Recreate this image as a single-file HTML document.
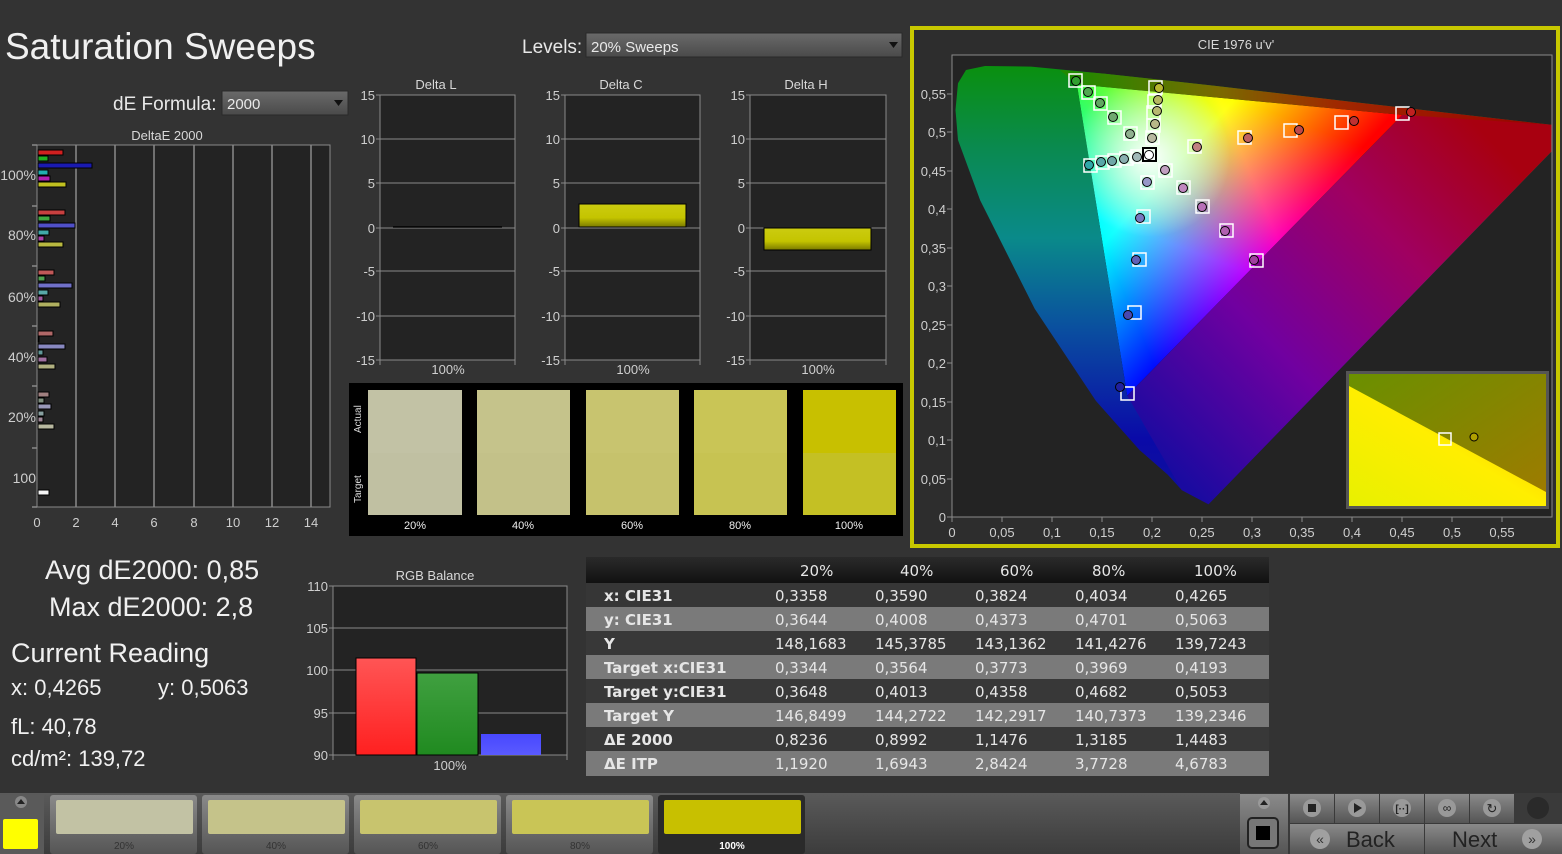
<!DOCTYPE html>
<html><head><meta charset="utf-8"><style>
html,body{margin:0;padding:0;background:#333333;width:1562px;height:854px;overflow:hidden}
svg{display:block}
text{font-family:"Liberation Sans",sans-serif;fill:#e8e8e8}
.t{fill:#d8d8d8;font-size:13px}
.tk{fill:#cfcfcf;font-size:13px}
.tb text{font-family:"DejaVu Sans",sans-serif;font-size:15px;fill:#e6e6e6}
.tb .l{font-weight:bold}
</style></head><body>
<svg width="1562" height="854" viewBox="0 0 1562 854" xmlns="http://www.w3.org/2000/svg">
<defs>
<linearGradient id="dd" x1="0" y1="0" x2="0" y2="1"><stop offset="0" stop-color="#6a6a6a"/><stop offset="1" stop-color="#4a4a4a"/></linearGradient>
<linearGradient id="yb" x1="0" y1="0" x2="0" y2="1"><stop offset="0" stop-color="#cccc10"/><stop offset="0.6" stop-color="#c4c400"/><stop offset="1" stop-color="#7a7a00"/></linearGradient>
<linearGradient id="rb" x1="0" y1="0" x2="0" y2="1"><stop offset="0" stop-color="#ff5555"/><stop offset="1" stop-color="#ff2020"/></linearGradient>
<linearGradient id="gb" x1="0" y1="0" x2="0" y2="1"><stop offset="0" stop-color="#40a040"/><stop offset="1" stop-color="#208a20"/></linearGradient>
<linearGradient id="bb" x1="0" y1="0" x2="0" y2="1"><stop offset="0" stop-color="#4848ff"/><stop offset="1" stop-color="#5a5aff"/></linearGradient>
<linearGradient id="bot" x1="0" y1="0" x2="0" y2="1"><stop offset="0" stop-color="#5a5a5a"/><stop offset="1" stop-color="#3c3c3c"/></linearGradient>
<linearGradient id="btn" x1="0" y1="0" x2="0" y2="1"><stop offset="0" stop-color="#8a8a8a"/><stop offset="1" stop-color="#555"/></linearGradient>
<linearGradient id="hdr" x1="0" y1="0" x2="0" y2="1"><stop offset="0" stop-color="#2a2a2a"/><stop offset="1" stop-color="#111"/></linearGradient>
<linearGradient id="loc" gradientUnits="userSpaceOnUse" x1="0" y1="60" x2="0" y2="505"><stop offset="0" stop-color="#0a900a"/><stop offset="0.2" stop-color="#0a8a50"/><stop offset="0.4" stop-color="#0a8a8a"/><stop offset="0.6" stop-color="#0a509f"/><stop offset="0.85" stop-color="#0a0aa8"/><stop offset="1" stop-color="#10109a"/></linearGradient>
<linearGradient id="top" gradientUnits="userSpaceOnUse" x1="1076" y1="0" x2="1552" y2="0"><stop offset="0" stop-color="#208a00"/><stop offset="0.3" stop-color="#7a6a00"/><stop offset="0.55" stop-color="#a02800"/><stop offset="1" stop-color="#990000"/></linearGradient>
<linearGradient id="pur" gradientUnits="userSpaceOnUse" x1="1170" y1="470" x2="1500" y2="150"><stop offset="0" stop-color="#1a0aa0"/><stop offset="0.35" stop-color="#7000a0"/><stop offset="0.7" stop-color="#a00060"/><stop offset="1" stop-color="#a80010"/></linearGradient>
<linearGradient id="gr" gradientUnits="userSpaceOnUse" x1="1402" y1="115" x2="1102" y2="240"><stop offset="0" stop-color="#ff0000"/><stop offset="0.5" stop-color="#ff0000"/><stop offset="1" stop-color="#ff0000" stop-opacity="0"/></linearGradient>
<linearGradient id="gg" gradientUnits="userSpaceOnUse" x1="1077" y1="84" x2="1265" y2="255"><stop offset="0" stop-color="#00ff00"/><stop offset="0.5" stop-color="#00ff00"/><stop offset="1" stop-color="#00ff00" stop-opacity="0"/></linearGradient>
<linearGradient id="gbl" gradientUnits="userSpaceOnUse" x1="1127" y1="396" x2="1240" y2="100"><stop offset="0" stop-color="#0000ff"/><stop offset="0.5" stop-color="#0000ff"/><stop offset="1" stop-color="#0000ff" stop-opacity="0"/></linearGradient>
<radialGradient id="wp" gradientUnits="userSpaceOnUse" cx="1150" cy="157" r="80"><stop offset="0" stop-color="#fff" stop-opacity="1"/><stop offset="1" stop-color="#fff" stop-opacity="0"/></radialGradient>
<linearGradient id="ins" x1="0" y1="1" x2="1" y2="0"><stop offset="0" stop-color="#e8f000"/><stop offset="0.5" stop-color="#ffee00"/><stop offset="1" stop-color="#ffb000"/></linearGradient>
<linearGradient id="ins2" x1="0" y1="0" x2="1" y2="1"><stop offset="0" stop-color="#6a9000"/><stop offset="1" stop-color="#a07a00"/></linearGradient>
</defs>

<text x="5" y="59" style="font-size:37px;fill:#f0f0f0">Saturation Sweeps</text>
<text x="113" y="110" style="font-size:19px;fill:#e8e8e8">dE Formula:</text>
<rect x="222" y="91" width="126" height="24" fill="url(#dd)" stroke="#2a2a2a"/>
<text x="227" y="109" style="font-size:15px">2000</text>
<path d="M334 100 h9 l-4.5 6z" fill="#111"/>
<text x="522" y="53" style="font-size:19px">Levels:</text>
<rect x="586" y="33" width="316" height="24" fill="url(#dd)" stroke="#2a2a2a"/>
<text x="591" y="52" style="font-size:15px">20% Sweeps</text>
<path d="M889 42 h9 l-4.5 6z" fill="#111"/>

<text x="167" y="140" class="t" text-anchor="middle">DeltaE 2000</text>
<rect x="37" y="145" width="293" height="362" fill="#232323" stroke="#8a8a8a"/>
<g stroke="#8a8a8a" stroke-width="1.5">
<line x1="76" y1="145" x2="76" y2="507"/><line x1="115" y1="145" x2="115" y2="507"/><line x1="154" y1="145" x2="154" y2="507"/><line x1="194" y1="145" x2="194" y2="507"/><line x1="233" y1="145" x2="233" y2="507"/><line x1="272" y1="145" x2="272" y2="507"/><line x1="311" y1="145" x2="311" y2="507"/>
<line x1="32" y1="145" x2="37" y2="145"/><line x1="32" y1="206" x2="37" y2="206"/><line x1="32" y1="266" x2="37" y2="266"/><line x1="32" y1="326" x2="37" y2="326"/><line x1="32" y1="386" x2="37" y2="386"/><line x1="32" y1="448" x2="37" y2="448"/><line x1="32" y1="507" x2="37" y2="507"/>
</g>
<text x="36" y="180" text-anchor="end" class="tk" style="font-size:14px">100%</text>
<text x="36" y="240" text-anchor="end" class="tk" style="font-size:14px">80%</text>
<text x="36" y="302" text-anchor="end" class="tk" style="font-size:14px">60%</text>
<text x="36" y="362" text-anchor="end" class="tk" style="font-size:14px">40%</text>
<text x="36" y="422" text-anchor="end" class="tk" style="font-size:14px">20%</text>
<text x="36" y="483" text-anchor="end" class="tk" style="font-size:14px">100</text>
<text x="37" y="527" text-anchor="middle" class="tk">0</text><text x="76" y="527" text-anchor="middle" class="tk">2</text><text x="115" y="527" text-anchor="middle" class="tk">4</text><text x="154" y="527" text-anchor="middle" class="tk">6</text><text x="194" y="527" text-anchor="middle" class="tk">8</text><text x="233" y="527" text-anchor="middle" class="tk">10</text><text x="272" y="527" text-anchor="middle" class="tk">12</text><text x="311" y="527" text-anchor="middle" class="tk">14</text>
<g stroke="#000" stroke-width="1">
<rect x="38" y="150" width="25" height="5" fill="#d02020"/><rect x="38" y="156" width="10" height="5" fill="#20b020"/><rect x="38" y="163" width="54" height="5" fill="#1a1ab0"/><rect x="38" y="170" width="10" height="5" fill="#20b0b0"/><rect x="38" y="176" width="12" height="5" fill="#b020b0"/><rect x="38" y="182" width="28" height="5" fill="#c0c020"/>
<rect x="38" y="210" width="27" height="5" fill="#c84040"/><rect x="38" y="216" width="12" height="5" fill="#40a840"/><rect x="38" y="223" width="37" height="5" fill="#5050c8"/><rect x="38" y="230" width="11" height="5" fill="#40a8a8"/><rect x="38" y="236" width="6" height="5" fill="#a840a8"/><rect x="38" y="242" width="25" height="5" fill="#b8b840"/>
<rect x="38" y="270" width="16" height="5" fill="#c05858"/><rect x="38" y="276" width="7" height="5" fill="#50a050"/><rect x="38" y="283" width="34" height="5" fill="#7070c8"/><rect x="38" y="290" width="10" height="5" fill="#58a8a8"/><rect x="38" y="296" width="5" height="5" fill="#a058a0"/><rect x="38" y="302" width="22" height="5" fill="#b0b060"/>
<rect x="38" y="331" width="15" height="5" fill="#b06868"/><rect x="38" y="337" width="1" height="5" fill="#609060"/><rect x="38" y="344" width="27" height="5" fill="#8888c0"/><rect x="38" y="350" width="5" height="5" fill="#609898"/><rect x="38" y="357" width="9" height="5" fill="#a070a0"/><rect x="38" y="364" width="17" height="5" fill="#b0b080"/>
<rect x="38" y="392" width="11" height="5" fill="#a08080"/><rect x="38" y="398" width="6" height="5" fill="#809080"/><rect x="38" y="404" width="13" height="5" fill="#9898b8"/><rect x="38" y="411" width="6" height="5" fill="#88a0a0"/><rect x="38" y="417" width="5" height="5" fill="#a08898"/><rect x="38" y="424" width="16" height="5" fill="#b8b8a0"/>
<rect x="38" y="490" width="11" height="5" fill="#f4f4f4"/>
</g>

<text x="436" y="89" class="t" text-anchor="middle">Delta L</text>
<text x="621" y="89" class="t" text-anchor="middle">Delta C</text>
<text x="806" y="89" class="t" text-anchor="middle">Delta H</text>
<rect x="380" y="95" width="135" height="265" fill="#232323" stroke="#8a8a8a"/>
<rect x="565" y="95" width="135" height="265" fill="#232323" stroke="#8a8a8a"/>
<rect x="750" y="95" width="136" height="265" fill="#232323" stroke="#8a8a8a"/>
<g stroke="#8a8a8a">
<path d="M376 95h4M376 139h139M376 183h139M376 228h139M376 271h139M376 316h139M376 360h4M380 360v5M515 360v5"/>
<path d="M561 95h4M561 139h139M561 183h139M561 228h139M561 271h139M561 316h139M561 360h4M565 360v5M700 360v5"/>
<path d="M746 95h4M746 139h140M746 183h140M746 228h140M746 271h140M746 316h140M746 360h4M750 360v5M886 360v5"/>
</g>
<text x="375" y="100" text-anchor="end" class="tk">15</text><text x="375" y="144" text-anchor="end" class="tk">10</text><text x="375" y="188" text-anchor="end" class="tk">5</text><text x="375" y="233" text-anchor="end" class="tk">0</text><text x="375" y="276" text-anchor="end" class="tk">-5</text><text x="375" y="321" text-anchor="end" class="tk">-10</text><text x="375" y="365" text-anchor="end" class="tk">-15</text>
<text x="560" y="100" text-anchor="end" class="tk">15</text><text x="560" y="144" text-anchor="end" class="tk">10</text><text x="560" y="188" text-anchor="end" class="tk">5</text><text x="560" y="233" text-anchor="end" class="tk">0</text><text x="560" y="276" text-anchor="end" class="tk">-5</text><text x="560" y="321" text-anchor="end" class="tk">-10</text><text x="560" y="365" text-anchor="end" class="tk">-15</text>
<text x="745" y="100" text-anchor="end" class="tk">15</text><text x="745" y="144" text-anchor="end" class="tk">10</text><text x="745" y="188" text-anchor="end" class="tk">5</text><text x="745" y="233" text-anchor="end" class="tk">0</text><text x="745" y="276" text-anchor="end" class="tk">-5</text><text x="745" y="321" text-anchor="end" class="tk">-10</text><text x="745" y="365" text-anchor="end" class="tk">-15</text>
<text x="448" y="374" text-anchor="middle" class="tk">100%</text><text x="633" y="374" text-anchor="middle" class="tk">100%</text><text x="818" y="374" text-anchor="middle" class="tk">100%</text>
<line x1="393" y1="227" x2="502" y2="227" stroke="#000" stroke-width="1.5"/>
<rect x="579" y="204" width="107" height="23" fill="url(#yb)" stroke="#000"/>
<rect x="764" y="228" width="107" height="22" fill="url(#yb)" stroke="#000"/>

<rect x="349" y="383" width="554" height="153" fill="#000"/>
<text transform="translate(361,433) rotate(-90)" style="font-size:10px;fill:#ddd">Actual</text>
<text transform="translate(361,503) rotate(-90)" style="font-size:10px;fill:#ddd">Target</text>
<rect x="368" y="390" width="94" height="63" fill="#c2c2a5"/><rect x="368" y="453" width="94" height="62" fill="#c0c0a2"/>
<rect x="477" y="390" width="93" height="63" fill="#c5c38b"/><rect x="477" y="453" width="93" height="62" fill="#c3c189"/>
<rect x="586" y="390" width="93" height="63" fill="#c8c46f"/><rect x="586" y="453" width="93" height="62" fill="#c6c26c"/>
<rect x="694" y="390" width="93" height="63" fill="#c9c556"/><rect x="694" y="453" width="93" height="62" fill="#c7c352"/>
<rect x="803" y="390" width="93" height="63" fill="#c8c000"/><rect x="803" y="453" width="93" height="62" fill="#c4c024"/>
<text x="415" y="529" text-anchor="middle" style="font-size:11px;fill:#eee">20%</text><text x="523" y="529" text-anchor="middle" style="font-size:11px;fill:#eee">40%</text><text x="632" y="529" text-anchor="middle" style="font-size:11px;fill:#eee">60%</text><text x="740" y="529" text-anchor="middle" style="font-size:11px;fill:#eee">80%</text><text x="849" y="529" text-anchor="middle" style="font-size:11px;fill:#eee">100%</text>

<text x="45" y="579" style="font-size:27px;fill:#f0f0f0">Avg dE2000: 0,85</text>
<text x="49" y="616" style="font-size:27px;fill:#f0f0f0">Max dE2000: 2,8</text>
<text x="11" y="662" style="font-size:27px;fill:#f0f0f0">Current Reading</text>
<text x="11" y="695" style="font-size:22px;fill:#f0f0f0">x: 0,4265</text>
<text x="158" y="695" style="font-size:22px;fill:#f0f0f0">y: 0,5063</text>
<text x="11" y="734" style="font-size:22px;fill:#f0f0f0">fL: 40,78</text>
<text x="11" y="766" style="font-size:22px;fill:#f0f0f0">cd/m²: 139,72</text>

<text x="435" y="580" class="t" text-anchor="middle">RGB Balance</text>
<rect x="333" y="586" width="234" height="169" fill="#232323" stroke="#8a8a8a"/>
<g stroke="#8a8a8a"><path d="M329 586h4M329 628h238M329 670h238M329 713h238M329 755h4M333 755v5M567 755v5"/></g>
<text x="328" y="591" text-anchor="end" class="tk">110</text><text x="328" y="633" text-anchor="end" class="tk">105</text><text x="328" y="675" text-anchor="end" class="tk">100</text><text x="328" y="718" text-anchor="end" class="tk">95</text><text x="328" y="760" text-anchor="end" class="tk">90</text><text x="450" y="770" text-anchor="middle" class="tk">100%</text>
<rect x="356" y="658" width="60" height="97" fill="url(#rb)" stroke="#000"/>
<rect x="417" y="673" width="61" height="82" fill="url(#gb)" stroke="#000"/>
<rect x="481" y="734" width="60" height="21" fill="url(#bb)"/>

<g class="tb">
<rect x="586" y="557" width="683" height="26" fill="url(#hdr)"/>
<rect x="586" y="583" width="683" height="24" fill="#363636"/>
<rect x="586" y="607" width="683" height="24" fill="#7a7a7a"/>
<rect x="586" y="631" width="683" height="24" fill="#383838"/>
<rect x="586" y="655" width="683" height="24" fill="#7a7a7a"/>
<rect x="586" y="679" width="683" height="24" fill="#383838"/>
<rect x="586" y="703" width="683" height="24" fill="#7a7a7a"/>
<rect x="586" y="727" width="683" height="24" fill="#383838"/>
<rect x="586" y="751" width="683" height="25" fill="#7a7a7a"/>
<text x="800" y="576">20%</text><text x="900" y="576">40%</text><text x="1000" y="576">60%</text><text x="1092" y="576">80%</text><text x="1194" y="576">100%</text>
<text x="604" y="601" class="l">x: CIE31</text><text x="775" y="601">0,3358</text><text x="875" y="601">0,3590</text><text x="975" y="601">0,3824</text><text x="1075" y="601">0,4034</text><text x="1175" y="601">0,4265</text>
<text x="604" y="625" class="l">y: CIE31</text><text x="775" y="625">0,3644</text><text x="875" y="625">0,4008</text><text x="975" y="625">0,4373</text><text x="1075" y="625">0,4701</text><text x="1175" y="625">0,5063</text>
<text x="604" y="649" class="l">Y</text><text x="775" y="649">148,1683</text><text x="875" y="649">145,3785</text><text x="975" y="649">143,1362</text><text x="1075" y="649">141,4276</text><text x="1175" y="649">139,7243</text>
<text x="604" y="673" class="l">Target x:CIE31</text><text x="775" y="673">0,3344</text><text x="875" y="673">0,3564</text><text x="975" y="673">0,3773</text><text x="1075" y="673">0,3969</text><text x="1175" y="673">0,4193</text>
<text x="604" y="697" class="l">Target y:CIE31</text><text x="775" y="697">0,3648</text><text x="875" y="697">0,4013</text><text x="975" y="697">0,4358</text><text x="1075" y="697">0,4682</text><text x="1175" y="697">0,5053</text>
<text x="604" y="721" class="l">Target Y</text><text x="775" y="721">146,8499</text><text x="875" y="721">144,2722</text><text x="975" y="721">142,2917</text><text x="1075" y="721">140,7373</text><text x="1175" y="721">139,2346</text>
<text x="604" y="745" class="l">ΔE 2000</text><text x="775" y="745">0,8236</text><text x="875" y="745">0,8992</text><text x="975" y="745">1,1476</text><text x="1075" y="745">1,3185</text><text x="1175" y="745">1,4483</text>
<text x="604" y="769" class="l">ΔE ITP</text><text x="775" y="769">1,1920</text><text x="875" y="769">1,6943</text><text x="975" y="769">2,8424</text><text x="1075" y="769">3,7728</text><text x="1175" y="769">4,6783</text>
</g>

<rect x="912" y="28" width="646" height="518" fill="#2d2d2d" stroke="#c8c800" stroke-width="4"/>
<text x="1236" y="49" class="t" text-anchor="middle">CIE 1976 u'v'</text>
<rect x="952" y="55" width="600" height="462" fill="#232323" stroke="#8a8a8a"/>
<path d="M1208.5 504.3 L1181.8 490.1 L1167.8 474.7 L1139.5 450 L1095.9 400.9 L1034.7 308.8 L980.2 200.4 L958 140 L955.5 110 L958 83.3 L966 70 L985 66 L1031.1 66.6 L1104.8 73.7 L1214.2 85.7 L1355.1 102.2 L1471.5 115.6 L1551.4 124.8 L1551.4 151.6 Z" fill="url(#loc)"/>
<path d="M1076.9 84.4 L1060 70 L1104.8 73.7 L1214.2 85.7 L1355.1 102.2 L1471.5 115.6 L1551.4 124.8 L1551.4 135 L1402.3 114.9 Z" fill="url(#top)"/>
<path d="M1127.2 395.6 L1402.3 114.9 L1551.4 124.8 L1551.4 151.6 L1208.5 504.3 L1181.8 490.1 Z" fill="url(#pur)"/>
<g style="isolation:isolate">
<path d="M1402.3 114.9 L1076.9 84.4 L1127.2 395.6 Z" fill="#000"/>
<path d="M1402.3 114.9 L1076.9 84.4 L1127.2 395.6 Z" fill="url(#gr)" style="mix-blend-mode:screen"/>
<path d="M1402.3 114.9 L1076.9 84.4 L1127.2 395.6 Z" fill="url(#gg)" style="mix-blend-mode:screen"/>
<path d="M1402.3 114.9 L1076.9 84.4 L1127.2 395.6 Z" fill="url(#gbl)" style="mix-blend-mode:screen"/>
<path d="M1402.3 114.9 L1076.9 84.4 L1127.2 395.6 Z" fill="url(#wp)" style="mix-blend-mode:screen"/>
</g>
<g stroke="#8a8a8a">
<path d="M947 517h5M947 479h5M947 440h5M947 402h5M947 363h5M947 325h5M947 286h5M947 248h5M947 209h5M947 171h5M947 132h5M947 94h5"/>
<path d="M952 517v5M1002 517v5M1052 517v5M1102 517v5M1152 517v5M1202 517v5M1252 517v5M1302 517v5M1352 517v5M1402 517v5M1452 517v5M1502 517v5"/>
</g>
<text x="946" y="522" text-anchor="end" class="tk">0</text><text x="946" y="484" text-anchor="end" class="tk">0,05</text><text x="946" y="445" text-anchor="end" class="tk">0,1</text><text x="946" y="407" text-anchor="end" class="tk">0,15</text><text x="946" y="368" text-anchor="end" class="tk">0,2</text><text x="946" y="330" text-anchor="end" class="tk">0,25</text><text x="946" y="291" text-anchor="end" class="tk">0,3</text><text x="946" y="253" text-anchor="end" class="tk">0,35</text><text x="946" y="214" text-anchor="end" class="tk">0,4</text><text x="946" y="176" text-anchor="end" class="tk">0,45</text><text x="946" y="137" text-anchor="end" class="tk">0,5</text><text x="946" y="99" text-anchor="end" class="tk">0,55</text>
<text x="952" y="537" text-anchor="middle" class="tk">0</text><text x="1002" y="537" text-anchor="middle" class="tk">0,05</text><text x="1052" y="537" text-anchor="middle" class="tk">0,1</text><text x="1102" y="537" text-anchor="middle" class="tk">0,15</text><text x="1152" y="537" text-anchor="middle" class="tk">0,2</text><text x="1202" y="537" text-anchor="middle" class="tk">0,25</text><text x="1252" y="537" text-anchor="middle" class="tk">0,3</text><text x="1302" y="537" text-anchor="middle" class="tk">0,35</text><text x="1352" y="537" text-anchor="middle" class="tk">0,4</text><text x="1402" y="537" text-anchor="middle" class="tk">0,45</text><text x="1452" y="537" text-anchor="middle" class="tk">0,5</text><text x="1502" y="537" text-anchor="middle" class="tk">0,55</text>
<g fill="none" stroke="#fff" stroke-width="1.5">
<rect x="1069" y="74" width="13" height="13"/><rect x="1082" y="86" width="13" height="13"/><rect x="1094" y="97" width="13" height="13"/><rect x="1108" y="111" width="13" height="13"/><rect x="1124" y="127" width="13" height="13"/>
<rect x="1149" y="81" width="13" height="13"/><rect x="1148" y="95" width="13" height="13"/><rect x="1147" y="106" width="13" height="13"/><rect x="1147" y="119" width="13" height="13"/><rect x="1146" y="131" width="13" height="13"/>
<rect x="1084" y="159" width="13" height="13"/><rect x="1096" y="156" width="13" height="13"/><rect x="1108" y="154" width="13" height="13"/><rect x="1120" y="152" width="13" height="13"/><rect x="1131" y="150" width="13" height="13"/>
<rect x="1188" y="140" width="13" height="13"/><rect x="1238" y="131" width="13" height="13"/><rect x="1284" y="124" width="13" height="13"/><rect x="1335" y="116" width="13" height="13"/><rect x="1396" y="107" width="13" height="13"/>
<rect x="1159" y="164" width="13" height="13"/><rect x="1177" y="181" width="13" height="13"/><rect x="1196" y="200" width="13" height="13"/><rect x="1220" y="224" width="13" height="13"/><rect x="1250" y="254" width="13" height="13"/>
<rect x="1141" y="176" width="13" height="13"/><rect x="1137" y="210" width="13" height="13"/><rect x="1133" y="253" width="13" height="13"/><rect x="1128" y="306" width="13" height="13"/><rect x="1121" y="387" width="13" height="13"/>
</g>
<rect x="1143" y="148" width="13" height="13" fill="none" stroke="#000" stroke-width="2"/>
<g stroke="#000" stroke-width="1">
<circle cx="1076" cy="81" r="4.5" fill="#30a030"/><circle cx="1088" cy="92" r="4.5" fill="#50a850"/><circle cx="1100" cy="103" r="4.5" fill="#60a860"/><circle cx="1113" cy="117" r="4.5" fill="#70a870"/><circle cx="1130" cy="134" r="4.5" fill="#90b090"/>
<circle cx="1159" cy="88" r="4.5" fill="#b8b830"/><circle cx="1158" cy="100" r="4.5" fill="#b8b860"/><circle cx="1157" cy="111" r="4.5" fill="#b8b870"/><circle cx="1155" cy="124" r="4.5" fill="#b8b888"/><circle cx="1152" cy="138" r="4.5" fill="#b8b8a0"/>
<circle cx="1089" cy="165" r="4.5" fill="#30a8a8"/><circle cx="1101" cy="162" r="4.5" fill="#58a8a8"/><circle cx="1112" cy="161" r="4.5" fill="#70a8a8"/><circle cx="1124" cy="159" r="4.5" fill="#88b0b0"/><circle cx="1137" cy="157" r="4.5" fill="#a0b8b8"/>
<circle cx="1149" cy="155" r="4.5" fill="#fff"/>
<circle cx="1197" cy="147" r="4.5" fill="#c08080"/><circle cx="1248" cy="138" r="4.5" fill="#c06060"/><circle cx="1299" cy="130" r="4.5" fill="#c04848"/><circle cx="1354" cy="121" r="4.5" fill="#c03030"/><circle cx="1411" cy="112" r="4.5" fill="#c02020"/>
<circle cx="1165" cy="170" r="4.5" fill="#c0a0c0"/><circle cx="1183" cy="188" r="4.5" fill="#c088c0"/><circle cx="1202" cy="207" r="4.5" fill="#b870b8"/><circle cx="1225" cy="231" r="4.5" fill="#b060b0"/><circle cx="1254" cy="260" r="4.5" fill="#a040a0"/>
<circle cx="1147" cy="182" r="4.5" fill="#9898c8"/><circle cx="1140" cy="218" r="4.5" fill="#7878c0"/><circle cx="1136" cy="260" r="4.5" fill="#6060b8"/><circle cx="1128" cy="315" r="4.5" fill="#4848b0"/><circle cx="1120" cy="387" r="4.5" fill="#2020a0"/>
</g>
<rect x="1346" y="371" width="203" height="138" fill="#555"/>
<rect x="1349" y="374" width="197" height="132" fill="url(#ins2)"/>
<path d="M1349 386 L1546 492 L1546 506 L1349 506 Z" fill="url(#ins)"/>
<rect x="1439" y="433" width="12" height="12" fill="none" stroke="#fff" stroke-width="1.5"/>
<circle cx="1474" cy="437" r="4" fill="#b0a000" stroke="#000"/>

<rect x="0" y="793" width="1562" height="61" fill="url(#bot)"/>
<rect x="0" y="795" width="44" height="59" fill="#5a5a5a"/>
<circle cx="21" cy="802" r="6" fill="#888"/><path d="M17 804h8l-4-5z" fill="#222"/>
<rect x="3" y="819" width="35" height="30" rx="2" fill="#ffff00"/>
<rect x="50" y="795" width="147" height="59" rx="3" fill="url(#btn)"/><rect x="56" y="800" width="137" height="34" rx="2" fill="#c2c2a4"/>
<rect x="202" y="795" width="147" height="59" rx="3" fill="url(#btn)"/><rect x="208" y="800" width="137" height="34" rx="2" fill="#c5c38a"/>
<rect x="354" y="795" width="147" height="59" rx="3" fill="url(#btn)"/><rect x="360" y="800" width="137" height="34" rx="2" fill="#c8c46e"/>
<rect x="506" y="795" width="147" height="59" rx="3" fill="url(#btn)"/><rect x="512" y="800" width="137" height="34" rx="2" fill="#c9c556"/>
<rect x="658" y="795" width="147" height="59" rx="3" fill="#2a2a2a"/><rect x="664" y="800" width="137" height="34" rx="2" fill="#c8c000"/>
<text x="124" y="849" text-anchor="middle" style="font-size:10px;fill:#333">20%</text><text x="276" y="849" text-anchor="middle" style="font-size:10px;fill:#333">40%</text><text x="428" y="849" text-anchor="middle" style="font-size:10px;fill:#333">60%</text><text x="580" y="849" text-anchor="middle" style="font-size:10px;fill:#333">80%</text><text x="732" y="849" text-anchor="middle" style="font-size:10px;fill:#fff;font-weight:bold">100%</text>
<rect x="1240" y="793" width="322" height="61" fill="#3a3a3a"/>
<rect x="1240" y="794" width="48" height="60" fill="url(#btn)"/>
<circle cx="1264" cy="803" r="6" fill="#999"/><path d="M1260 805h8l-4-5z" fill="#222"/>
<rect x="1248" y="818" width="30" height="30" rx="4" fill="#777" stroke="#222" stroke-width="2"/><rect x="1256" y="826" width="14" height="14" fill="#000"/>
<rect x="1290" y="794" width="44" height="29" fill="url(#btn)"/><rect x="1335" y="794" width="44" height="29" fill="url(#btn)"/><rect x="1380" y="794" width="44" height="29" fill="url(#btn)"/><rect x="1425" y="794" width="44" height="29" fill="url(#btn)"/><rect x="1470" y="794" width="44" height="29" fill="url(#btn)"/>
<circle cx="1312" cy="808" r="9" fill="#999"/><rect x="1308" y="804" width="8" height="8" fill="#222"/>
<circle cx="1357" cy="808" r="9" fill="#999"/><path d="M1354 803v10l8-5z" fill="#222"/>
<circle cx="1402" cy="808" r="9" fill="#999"/><text x="1402" y="812" text-anchor="middle" style="font-size:10px;fill:#222;font-weight:bold">[··]</text>
<circle cx="1447" cy="808" r="9" fill="#999"/><text x="1447" y="812" text-anchor="middle" style="font-size:12px;fill:#222">∞</text>
<circle cx="1492" cy="808" r="9" fill="#999"/><text x="1492" y="813" text-anchor="middle" style="font-size:13px;fill:#222">↻</text>
<circle cx="1538" cy="808" r="11" fill="#2a2a2a"/>
<rect x="1290" y="824" width="134" height="30" fill="url(#btn)"/><rect x="1425" y="824" width="137" height="30" fill="url(#btn)"/>
<circle cx="1320" cy="839" r="10" fill="#a0a0a0"/><text x="1320" y="844" text-anchor="middle" style="font-size:14px;fill:#333">«</text>
<text x="1346" y="847" style="font-size:22px;fill:#222">Back</text>
<text x="1452" y="847" style="font-size:22px;fill:#222">Next</text>
<circle cx="1532" cy="839" r="10" fill="#a0a0a0"/><text x="1532" y="844" text-anchor="middle" style="font-size:14px;fill:#333">»</text>
</svg>
</body></html>
